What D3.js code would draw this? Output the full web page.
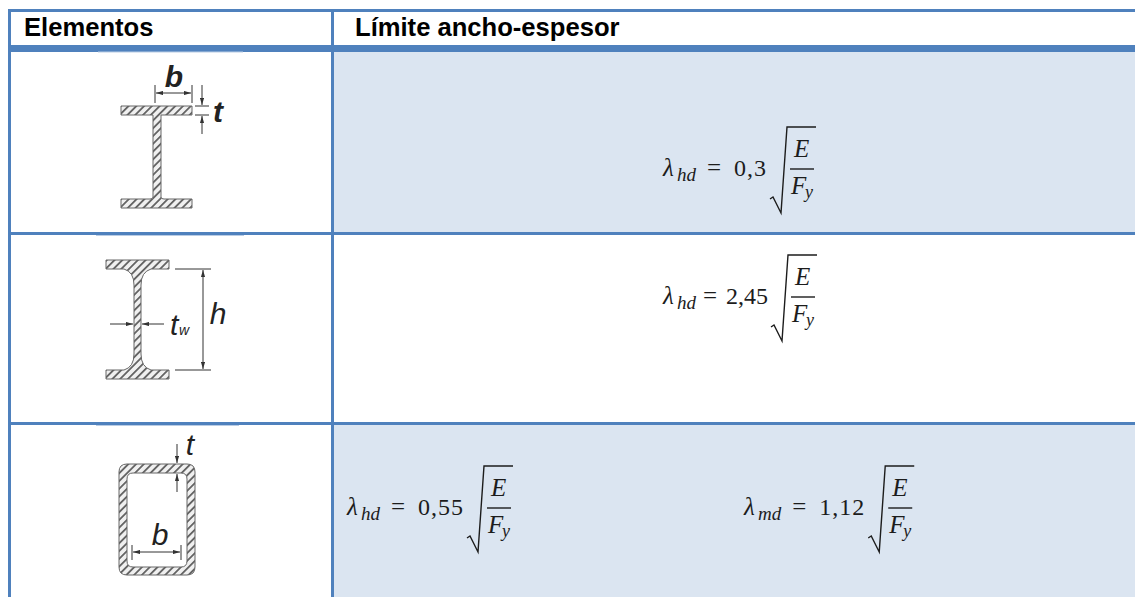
<!DOCTYPE html>
<html>
<head>
<meta charset="utf-8">
<script src="https://cdn.jsdelivr.net/npm/d3@7"></script>
<style>
  html, body { margin: 0; padding: 0; background: #fff; overflow: hidden; }
  svg { display: block; }
</style>
</head>
<body>
<svg id="chart" width="1135" height="597"></svg>
<script>
// table content
const headers = ["Elementos", "Límite ancho-espesor"];
const rowNames = ["flange", "web", "tube"];
const shadedRows = ["flange", "tube"];
const formulaSubs = ["hd", "hd", "hd", "md"];
const formulaCoefs = ["0,3", "2,45", "0,55", "1,12"];

const blue = "#4f81bd";
const shade = "#dbe5f1";
const ink = "#1c1c1c";

const svg = d3.select("#chart");
const width = 1135, height = 597;

// column and row edges
const colX = d3.scaleOrdinal().domain(["first", "second", "end"]).range([9, 333, 1135]);
const rowY = d3.scaleOrdinal().domain(rowNames).range([52, 235, 425]);
const rowEnd = d3.scaleOrdinal().domain(rowNames).range([232, 422, 597]);

// hatching used in the steel sections
const defs = svg.append("defs");
const hatch = defs.append("pattern").attr("id", "hatch")
  .attr("width", 5.5).attr("height", 5.5)
  .attr("patternUnits", "userSpaceOnUse")
  .attr("patternTransform", "rotate(45)");
hatch.append("rect").attr("width", 5.5).attr("height", 5.5).attr("fill", "#f0f0f0");
hatch.append("rect").attr("width", 1.8).attr("height", 5.5).attr("fill", "#626262");

defs.append("marker").attr("id", "arrow")
  .attr("viewBox", "0 0 10 6").attr("refX", 10).attr("refY", 3)
  .attr("markerWidth", 7).attr("markerHeight", 4.5)
  .attr("markerUnits", "userSpaceOnUse").attr("orient", "auto")
  .append("path").attr("d", "M0,0L10,3L0,6Z").attr("fill", "#333");

// shaded cells
svg.append("g").selectAll("rect").data(shadedRows).enter().append("rect")
  .attr("x", colX("second"))
  .attr("y", d => rowY(d))
  .attr("width", colX("end") - colX("second"))
  .attr("height", d => rowEnd(d) - rowY(d))
  .attr("fill", shade);

// table rules
const rules = svg.append("g").attr("stroke", blue);
rules.append("line").attr("x1", 8).attr("x2", width).attr("y1", 10.5).attr("y2", 10.5).attr("stroke-width", 3);
rules.append("line").attr("x1", 8).attr("x2", width).attr("y1", 48.5).attr("y2", 48.5).attr("stroke-width", 7);
rules.selectAll(".sep").data(["web", "tube"]).enter().append("line")
  .attr("x1", 8).attr("x2", width)
  .attr("y1", d => rowY(d) - 1.5).attr("y2", d => rowY(d) - 1.5)
  .attr("stroke-width", 3);
rules.append("line").attr("x1", 9.5).attr("x2", 9.5).attr("y1", 9).attr("y2", height).attr("stroke-width", 3);
rules.append("line").attr("x1", 332.5).attr("x2", 332.5).attr("y1", 9).attr("y2", height).attr("stroke-width", 3);

// header text
svg.append("g").selectAll("text").data(headers).enter().append("text")
  .attr("x", (d, i) => i === 0 ? 24 : 355)
  .attr("y", 36)
  .attr("font-family", "Liberation Sans, Arial, sans-serif")
  .attr("font-weight", "bold")
  .attr("font-size", 25.6)
  .attr("fill", "#000")
  .text(d => d);

// one formula, anchored on the left of the lambda baseline
function drawFormula(g, sub, coef, tight) {
  const serif = "Liberation Serif, DejaVu Serif, serif";
  const put = (x, y, s, size, italic) => g.append("text")
    .attr("x", x).attr("y", y)
    .attr("font-family", serif).attr("font-size", size)
    .attr("font-style", italic ? "italic" : "normal")
    .attr("fill", ink).text(s);

  put(0, 0, "λ", 25, true);
  const subText = put(14, 5, sub, 19, true);
  const subEnd = 14 + subText.node().getComputedTextLength();
  const eq = subEnd + 11 - tight;
  put(eq, 0, "=", 25, false);
  const num = put(eq + 27 - tight, 0, coef, 24, false).attr("letter-spacing", tight ? 0 : 1);
  const end = eq + 27 - tight + num.node().getComputedTextLength() + 3;

  // radical sign and fraction
  g.append("path")
    .attr("d", `M${end},23 L${end + 3},21 L${end + 11},37 L${end + 17},-49 H${end + 46}`)
    .attr("fill", "none").attr("stroke", ink).attr("stroke-width", 1.4);
  g.append("line").attr("x1", end + 20).attr("x2", end + 44).attr("y1", -7).attr("y2", -7)
    .attr("stroke", ink).attr("stroke-width", 1.4);
  put(end + 24, -19, "E", 25, true);
  put(end + 21, 18, "F", 25, true);
  put(end + 35, 22, "y", 18, true);
}

const formulaX = [663, 663, 347, 744];
const formulaY = [176, 304, 515, 515];
const formulaTight = [0, 4, 0, 0];
formulaCoefs.forEach((c, i) => {
  const g = svg.append("g").attr("transform", `translate(${formulaX[i]},${formulaY[i]})`);
  drawFormula(g, formulaSubs[i], c, formulaTight[i]);
});

// helpers for the section sketches
const steel = g => g.attr("fill", "url(#hatch)").attr("stroke", "#666").attr("stroke-width", 1);
function dim(g, x1, y1, x2, y2, arrow) {
  const l = g.append("line").attr("x1", x1).attr("y1", y1).attr("x2", x2).attr("y2", y2)
    .attr("stroke", "#333").attr("stroke-width", 1);
  if (arrow) l.attr("marker-end", "url(#arrow)");
}
function label(g, x, y, s, size, anchor) {
  return g.append("text").attr("x", x).attr("y", y).attr("text-anchor", anchor || "middle")
    .attr("font-family", "Liberation Sans, Arial, sans-serif").attr("font-style", "italic")
    .attr("font-size", size).attr("fill", "#222").text(s);
}

// pale strip left by the pasted pictures
const strips = [[98, 243, 52], [96, 244, 235.5], [96, 239, 425.5]];
svg.append("g").selectAll("line").data(strips).enter().append("line")
  .attr("x1", d => d[0]).attr("x2", d => d[1])
  .attr("y1", d => d[2]).attr("y2", d => d[2])
  .attr("stroke", "#b9cce4").attr("stroke-width", 1);

// flange section
const s1 = svg.append("g");
s1.append("path").call(steel).attr("d", "M121,106H192V115H161V197Q161,199 164,199H192V208H121V199H150Q153,199 153,197V115H121Z");
dim(s1, 155, 85, 155, 103); dim(s1, 192, 85, 192, 103);
dim(s1, 174, 93, 156, 93, true); dim(s1, 174, 93, 191, 93, true);
dim(s1, 195, 106, 209, 106); dim(s1, 195, 115, 209, 115);
dim(s1, 202, 85, 202, 105, true); dim(s1, 202, 134, 202, 116, true);
label(s1, 174, 87, "b", 30).attr("font-weight", "bold");
label(s1, 218, 122, "t", 30).attr("font-weight", "bold");

// web section
const s2 = svg.append("g");
s2.append("path").call(steel).attr("d", "M106,260H169V269H151Q141,272 141,285V354Q141,367 151,370H169V379H106V370H124Q134,367 134,354V285Q134,272 124,269H106Z");
dim(s2, 175, 269, 211, 269); dim(s2, 175, 370, 211, 370);
dim(s2, 203, 300, 203, 270, true); dim(s2, 203, 340, 203, 369, true); dim(s2, 203, 300, 203, 340);
dim(s2, 110, 324, 133, 324, true); dim(s2, 164, 324, 142, 324, true);
label(s2, 218, 324, "h", 30);
label(s2, 170, 335, "t", 30, "start");
label(s2, 179, 335, "w", 14, "start");

// tube section
const s3 = svg.append("g");
s3.append("path").call(steel).attr("fill-rule", "evenodd").attr("d",
  "M127,464H187Q195,464 195,472V567Q195,575 187,575H127Q119,575 119,567V472Q119,464 127,464Z" +
  "M133,473Q127,473 127,479V561Q127,567 133,567H181Q187,567 187,561V479Q187,473 181,473Z");
dim(s3, 177, 444, 177, 463, true); dim(s3, 177, 492, 177, 474, true);
dim(s3, 132, 545, 132, 560); dim(s3, 181, 545, 181, 560);
dim(s3, 156, 552, 133, 552, true); dim(s3, 156, 552, 180, 552, true);
label(s3, 160, 545, "b", 30);
label(s3, 190, 455, "t", 30);
</script>
</body>
</html>
